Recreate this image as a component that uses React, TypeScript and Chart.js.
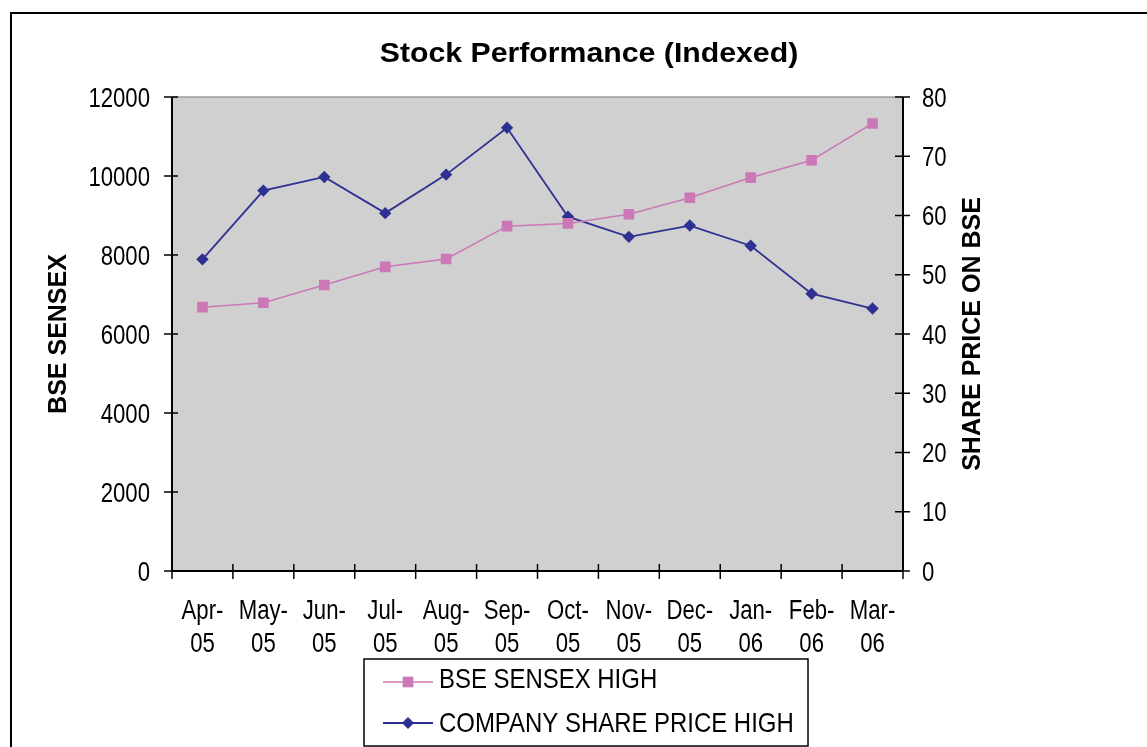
import React, { useEffect, useRef } from "react";
import { Chart, registerables } from "chart.js";

Chart.register(...registerables);

// ---------- data ----------
const categories = ["Apr-05", "May-05", "Jun-05", "Jul-05", "Aug-05", "Sep-05", "Oct-05", "Nov-05", "Dec-05", "Jan-06", "Feb-06", "Mar-06"];
const bseSensexHigh = [6680, 6790, 7240, 7700, 7900, 8730, 8800, 9030, 9450, 9960, 10400, 11330];
const companySharePriceHigh = [52.6, 64.2, 66.5, 60.4, 66.9, 74.8, 59.8, 56.4, 58.3, 54.9, 46.8, 44.3];
const seriesNames = ["BSE SENSEX HIGH", "COMPANY SHARE PRICE HIGH"];
const leftAxisRange = [0, 12000, 2000];
const rightAxisRange = [0, 80, 10];
const chartTitle = "Stock Performance (Indexed)";
const leftAxisTitle = "BSE SENSEX";
const rightAxisTitle = "SHARE PRICE ON BSE";

// ---------- styles ----------
const PINK = "#CC77B6";
const NAVY = "#2E3192";
const PLOT_BG = "#D0D0D0";
const FONT = '"Liberation Sans", Arial, sans-serif';

function drawText(
  ctx: CanvasRenderingContext2D,
  s: string,
  x: number,
  y: number,
  size: number,
  bold: boolean,
  sx: number,
  align: CanvasTextAlign,
  rotate = 0
) {
  ctx.save();
  ctx.font = `${bold ? "bold " : ""}${size}px ${FONT}`;
  ctx.fillStyle = "#000";
  ctx.textBaseline = "alphabetic";
  ctx.textAlign = align;
  ctx.translate(x, y);
  if (rotate) ctx.rotate(rotate);
  ctx.scale(sx, 1);
  ctx.fillText(s, 0, 0);
  ctx.restore();
}

function hline(ctx: CanvasRenderingContext2D, x1: number, x2: number, y: number) {
  ctx.beginPath();
  ctx.moveTo(x1, y);
  ctx.lineTo(x2, y);
  ctx.stroke();
}
function vline(ctx: CanvasRenderingContext2D, x: number, y1: number, y2: number) {
  ctx.beginPath();
  ctx.moveTo(x, y1);
  ctx.lineTo(x, y2);
  ctx.stroke();
}

const decorPlugin = {
  id: "decor",
  beforeDraw(chart: any) {
    const { ctx, chartArea: a } = chart;
    ctx.save();
    ctx.fillStyle = "#ffffff";
    ctx.fillRect(0, 0, chart.width, chart.height);
    ctx.fillStyle = PLOT_BG;
    ctx.fillRect(a.left, a.top, a.right - a.left, a.bottom - a.top);
    ctx.strokeStyle = "#9c9c9c";
    ctx.lineWidth = 1.5;
    hline(ctx, a.left, a.right, a.top);
    ctx.restore();
  },
  afterDraw(chart: any) {
    const { ctx, chartArea: a } = chart;
    const xs = chart.scales.x;
    const yl = chart.scales.y;
    const yr = chart.scales.y1;
    ctx.save();
    ctx.strokeStyle = "#000";

    // axis lines
    ctx.lineWidth = 2;
    vline(ctx, a.left, a.top, a.bottom);
    vline(ctx, a.right, a.top, a.bottom);
    hline(ctx, a.left, a.right, a.bottom);

    // tick marks
    ctx.lineWidth = 1.5;
    yl.ticks.forEach((t: any, i: number) => {
      const py = yl.getPixelForTick(i);
      hline(ctx, a.left - 8, a.left + 6, py);
      drawText(ctx, String(t.value), a.left - 22, py + 9.7, 27, false, 0.82, "right");
    });
    yr.ticks.forEach((t: any, i: number) => {
      const py = yr.getPixelForTick(i);
      hline(ctx, a.right - 8, a.right + 7, py);
      drawText(ctx, String(t.value), a.right + 19, py + 9.7, 27, false, 0.82, "left");
    });
    const n = categories.length;
    const half = (xs.getPixelForValue(1) - xs.getPixelForValue(0)) / 2;
    for (let i = 0; i <= n; i++) {
      const px = i < n ? xs.getPixelForValue(i) - half : xs.getPixelForValue(n - 1) + half;
      vline(ctx, px, a.bottom - 7, a.bottom + 8);
    }
    categories.forEach((c, i) => {
      const px = xs.getPixelForValue(i);
      const [m, yy] = c.split("-");
      drawText(ctx, m + "-", px, a.bottom + 48, 27, false, 0.82, "center");
      drawText(ctx, yy, px, a.bottom + 81, 27, false, 0.82, "center");
    });

    // titles
    drawText(ctx, chartTitle, 589, 62, 28, true, 1.08, "center");
    drawText(ctx, leftAxisTitle, 66, (a.top + a.bottom) / 2, 25, true, 1, "center", -Math.PI / 2);
    drawText(ctx, rightAxisTitle, 980, (a.top + a.bottom) / 2, 25, true, 1, "center", -Math.PI / 2);

    // legend
    const lx = 364, ly = 659, lw = 444, lh = 87;
    ctx.fillStyle = "#fff";
    ctx.fillRect(lx, ly, lw, lh);
    ctx.lineWidth = 1.5;
    ctx.strokeStyle = "#000";
    ctx.strokeRect(lx, ly, lw, lh);
    const ds = chart.data.datasets;
    const rows = [
      { lineY: 682, textY: 688 },
      { lineY: 723, textY: 732 },
    ];
    ds.forEach((d: any, i: number) => {
      const r = rows[i];
      ctx.strokeStyle = d.borderColor;
      ctx.lineWidth = d.borderWidth;
      hline(ctx, 383, 433, r.lineY);
      ctx.fillStyle = d.pointBackgroundColor;
      if (d.pointStyle === "rect") {
        ctx.fillRect(408 - 5.3, r.lineY - 5.3, 10.6, 10.6);
      } else {
        ctx.beginPath();
        ctx.moveTo(408, r.lineY - 6);
        ctx.lineTo(414, r.lineY);
        ctx.lineTo(408, r.lineY + 6);
        ctx.lineTo(402, r.lineY);
        ctx.closePath();
        ctx.fill();
      }
      drawText(ctx, d.label, 439, r.textY, 28, false, 0.855, "left");
    });

    // outer frame
    ctx.strokeStyle = "#000";
    ctx.lineWidth = 2;
    ctx.strokeRect(11, 13, chart.width + 20, chart.height + 20);
    ctx.restore();
  },
};

export default function App() {
  const canvasRef = useRef<HTMLCanvasElement | null>(null);

  useEffect(() => {
    document.body.style.margin = "0";
    const canvas = canvasRef.current;
    if (!canvas) return;
    const chart = new Chart(canvas, {
      type: "line",
      data: {
        labels: categories,
        datasets: [
          {
            label: seriesNames[0],
            data: bseSensexHigh,
            yAxisID: "y",
            borderColor: PINK,
            backgroundColor: PINK,
            pointBackgroundColor: PINK,
            pointBorderColor: PINK,
            borderWidth: 1.5,
            pointStyle: "rect",
            pointRadius: 7.5,
            pointBorderWidth: 0,
            tension: 0,
            fill: false,
          },
          {
            label: seriesNames[1],
            data: companySharePriceHigh,
            yAxisID: "y1",
            borderColor: NAVY,
            backgroundColor: NAVY,
            pointBackgroundColor: NAVY,
            pointBorderColor: NAVY,
            borderWidth: 1.8,
            pointStyle: "rectRot",
            pointRadius: 6.2,
            pointBorderWidth: 0,
            tension: 0,
            fill: false,
          },
        ],
      },
      options: {
        animation: false,
        responsive: false,
        devicePixelRatio: 1,
        layout: { padding: { top: 97, left: 0, right: 0, bottom: 0 } },
        plugins: {
          legend: { display: false },
          title: { display: false },
          tooltip: { enabled: false },
        },
        scales: {
          x: {
            type: "category",
            offset: true,
            grid: { display: false },
            border: { display: false },
            ticks: { display: false },
            afterFit: (s: any) => {
              s.height = 176;
            },
          },
          y: {
            position: "left",
            min: leftAxisRange[0],
            max: leftAxisRange[1],
            ticks: { display: false, stepSize: leftAxisRange[2] },
            grid: { display: false },
            border: { display: false },
            afterFit: (s: any) => {
              s.width = 172;
            },
          },
          y1: {
            position: "right",
            min: rightAxisRange[0],
            max: rightAxisRange[1],
            ticks: { display: false, stepSize: rightAxisRange[2] },
            grid: { display: false },
            border: { display: false },
            afterFit: (s: any) => {
              s.width = 244;
            },
          },
        },
      } as any,
      plugins: [decorPlugin],
    });
    return () => chart.destroy();
  }, []);

  return (
    <div style={{ width: 1147, height: 747, position: "relative" }}>
      <canvas ref={canvasRef} width={1147} height={747} style={{ display: "block" }} />
    </div>
  );
}
